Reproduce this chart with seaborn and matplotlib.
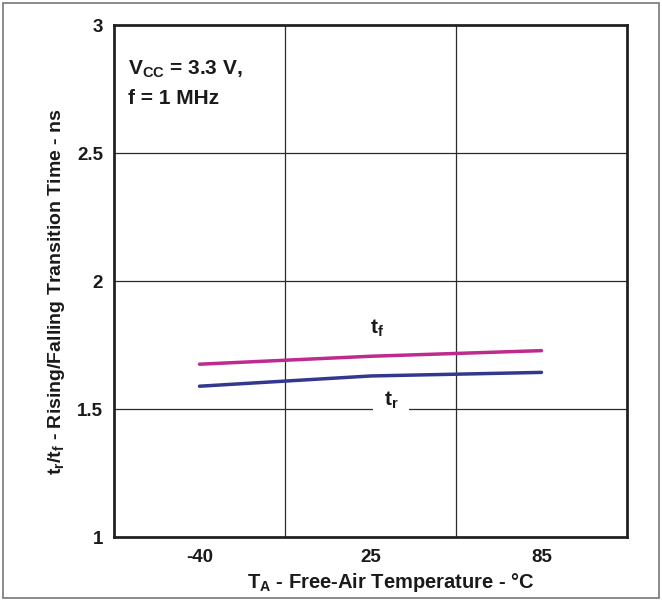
import matplotlib
matplotlib.use("Agg")
import matplotlib.pyplot as plt
import seaborn as sns
import pandas as pd
from matplotlib.patches import Rectangle

# Free-air temperature points (°C) and transition times (ns)
temperatures = ["-40", "25", "85"]
t_fall = [1.675, 1.706, 1.728]
t_rise = [1.589, 1.629, 1.643]

y_ticks = [1, 1.5, 2, 2.5, 3]
y_tick_labels = ["1", "1.5", "2", "2.5", "3"]

color_fall = "#BE2A8E"
color_rise = "#33388F"

sns.set_theme(style="white")
plt.rcParams["font.family"] = ["Liberation Sans", "DejaVu Sans"]
plt.rcParams["font.weight"] = "bold"
plt.rcParams["mathtext.fontset"] = "custom"
plt.rcParams["mathtext.rm"] = "Liberation Sans:bold"
plt.rcParams["mathtext.it"] = "Liberation Sans:bold"
plt.rcParams["mathtext.bf"] = "Liberation Sans:bold"

df = pd.DataFrame({
    "temp": temperatures * 2,
    "time": t_fall + t_rise,
    "edge": ["tf"] * 3 + ["tr"] * 3,
})

fig = plt.figure(figsize=(6.62, 6.0), dpi=100)
ax = fig.add_axes([114 / 662, 1 - 537 / 600, 513 / 662, 512 / 600])

sns.lineplot(data=df, x="temp", y="time", hue="edge",
             palette={"tf": color_fall, "tr": color_rise},
             linewidth=2.5, legend=False, ax=ax, zorder=3)

ax.set_xlim(-0.5, 2.5)
ax.set_ylim(1, 3)
ax.set_yticks(y_ticks)
ax.set_yticklabels(y_tick_labels)
ax.set_xticks(range(len(temperatures)))
ax.set_xticklabels(temperatures)
ax.tick_params(axis="both", length=0, labelsize=13.5, colors="#1a1a1a")
ax.tick_params(axis="y", pad=8)
ax.tick_params(axis="x", pad=9)
for lbl in ax.get_xticklabels() + ax.get_yticklabels():
    lbl.set_fontweight("bold")

# Grid: horizontal at the interior y ticks, vertical between temperature columns
for y in [1.5, 2, 2.5]:
    ax.axhline(y, color="#2a2a2a", linewidth=0.9, zorder=1)
for x in [0.5, 1.5]:
    ax.axvline(x, color="#2a2a2a", linewidth=0.9, zorder=1)

for side in ["left", "right", "top", "bottom"]:
    ax.spines[side].set_color("#222222")
    ax.spines[side].set_linewidth(2.0)

ax.set_xlabel(r"T$_\mathrm{A}$ - Free-Air Temperature - °C",
              fontsize=14.5, fontweight="bold", color="#1a1a1a", labelpad=3)
ax.set_ylabel(r"t$_\mathrm{r}$/t$_\mathrm{f}$ - Rising/Falling Transition Time - ns",
              fontsize=14, fontweight="bold", color="#1a1a1a", labelpad=7)
ax.xaxis.label.set_x(0.54)
ax.yaxis.label.set_y(0.48)

# Curve labels
ax.text(1.04, 1.815, r"t$_\mathrm{f}$", fontsize=15, fontweight="bold",
        ha="center", va="center", color="#1a1a1a", zorder=4)
ax.text(1.12, 1.535, r"t$_\mathrm{r}$", fontsize=15, fontweight="bold",
        ha="center", va="center", color="#1a1a1a", zorder=4,
        bbox=dict(facecolor="white", edgecolor="none", pad=8))

# Test conditions
ax.text(-0.42, 2.87, "V$_\\mathrm{CC}$ = 3.3 V,\nf = 1 MHz", fontsize=15,
        fontweight="bold", ha="left", va="top", color="#1a1a1a",
        linespacing=1.6)

# Figure frame
fig.patches.append(Rectangle((3 / 662, 2 / 600), 656 / 662, 595 / 600,
                             transform=fig.transFigure, fill=False,
                             edgecolor="#777777", linewidth=1.2))

fig.savefig("out.png", dpi=100)
